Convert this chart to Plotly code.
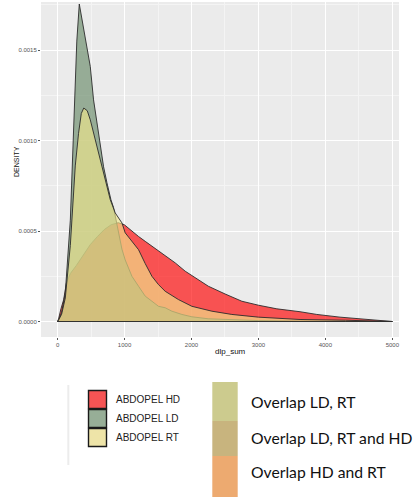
import plotly.graph_objects as go

# Kernel density estimates of dlp_sum for the three ABDOPEL protocols (density values in 1e-3 units)
hd_x = [0, 15, 50, 90, 130, 190, 279, 384, 488, 593, 697, 801, 906, 996, 1110, 1209, 1309,
        1409, 1507, 1607, 1757, 1906, 2055, 2252, 2503, 2752, 3000, 3275, 3622, 3872, 4219,
        4518, 4767, 5000]
hd_y = [0, 0.015, 0.07, 0.12, 0.21, 0.265, 0.309, 0.37, 0.425, 0.469, 0.508, 0.535, 0.546,
        0.535, 0.498, 0.47, 0.443, 0.416, 0.39, 0.365, 0.324, 0.278, 0.241, 0.195, 0.152,
        0.112, 0.09, 0.07, 0.054, 0.039, 0.024, 0.015, 0.008, 0.004]

ld_x = [0, 15, 60, 115, 190, 224, 257, 287, 324, 380, 439, 488, 537, 612, 687, 737, 797, 836,
        891, 961, 1010, 1110, 1209, 1309, 1409, 1507, 1607, 1707, 1857, 2006, 2249, 2503, 3000,
        3500, 4000, 4500, 5000]
ld_y = [0, 0.01, 0.05, 0.16, 0.56, 0.89, 1.22, 1.55, 1.755, 1.63, 1.50, 1.41, 1.225, 1.043,
        0.855, 0.767, 0.673, 0.63, 0.53, 0.40, 0.34, 0.25, 0.195, 0.14, 0.112, 0.084, 0.076,
        0.057, 0.039, 0.026, 0.015, 0.011, 0.005, 0.003, 0.002, 0.001, 0.0005]

rt_x = [0, 15, 60, 115, 190, 227, 264, 313, 354, 391, 443, 488, 563, 637, 712, 787, 861, 961,
        1010, 1110, 1209, 1309, 1409, 1507, 1607, 1806, 2006, 2304, 2603, 3000, 3622, 4300, 5000]
rt_y = [0, 0.008, 0.04, 0.13, 0.42, 0.62, 0.86, 1.04, 1.15, 1.18, 1.165, 1.115, 1.004, 0.894,
        0.784, 0.673, 0.60, 0.545, 0.49, 0.44, 0.397, 0.32, 0.25, 0.204, 0.167, 0.121, 0.084,
        0.057, 0.039, 0.024, 0.011, 0.007, 0.002]

series_names = ["ABDOPEL HD", "ABDOPEL LD", "ABDOPEL RT"]
series_fill = ["rgba(255,0,0,0.65)", "rgba(105,139,105,0.65)", "rgba(240,230,140,0.65)"]
legend_swatch = ["#F65454", "#97AE97", "#EEE4A8"]

overlap_labels = ["Overlap LD, RT", "Overlap LD, RT and HD", "Overlap HD and RT"]
overlap_colors = ["#CCCB8E", "#C8B47E", "#EDAA70"]

x_ticks = [0, 1000, 2000, 3000, 4000, 5000]
y_ticks = [0, 0.0005, 0.0010, 0.0015]

W, H = 419, 498
ML, MR, MT, MB = 41, 20, 2, 161


def px(x):
    return (x - ML) / (W - ML - MR)


def py(y):
    return (H - MB - y) / (H - MT - MB)


fig = go.Figure()
for name, xs, ys, fc in zip(series_names, [hd_x, ld_x, rt_x], [hd_y, ld_y, rt_y], series_fill):
    dens = [v / 1000 for v in ys]
    fig.add_trace(go.Scatter(
        x=xs + xs[::-1], y=dens + [0] * len(xs),
        mode="lines", fill="toself", fillcolor=fc,
        line=dict(color="#2b2b2b", width=0.9),
        name=name, showlegend=False, hoverinfo="skip",
    ))

shapes = []
annotations = []

# protocol key
shapes.append(dict(type="line", xref="paper", yref="paper",
                   x0=px(68.3), x1=px(68.3), y0=py(385), y1=py(465),
                   line=dict(color="#ECECEC", width=2)))
box_top = 390
for i, (name, col) in enumerate(zip(series_names, legend_swatch)):
    y0 = box_top + i * 19
    shapes.append(dict(type="rect", xref="paper", yref="paper",
                       x0=px(88.5), x1=px(106.5), y0=py(y0 + 18.5), y1=py(y0 + 0.5),
                       fillcolor=col, line=dict(color="#1a1a1a", width=1.4)))
    annotations.append(dict(text=name, xref="paper", yref="paper",
                            x=px(113.5), y=py(y0 + 9.5), xanchor="left", yanchor="middle",
                            showarrow=False,
                            font=dict(family="Liberation Sans, Arial", size=10, color="#222")))

# overlap key
edges = [382, 421, 456, 497]
for i, (lab, col) in enumerate(zip(overlap_labels, overlap_colors)):
    shapes.append(dict(type="rect", xref="paper", yref="paper",
                       x0=px(212.3), x1=px(237.7), y0=py(edges[i + 1]), y1=py(edges[i]),
                       fillcolor=col, line=dict(width=0)))
centers = [401.7, 438.3, 471.7]
for lab, cy in zip(overlap_labels, centers):
    annotations.append(dict(text=lab, xref="paper", yref="paper",
                            x=px(249), y=py(cy), xanchor="left", yanchor="middle",
                            showarrow=False,
                            font=dict(family="Lato, Noto Sans", size=15.7, color="#111")))

# axis titles
annotations.append(dict(text="DENSITY", xref="paper", yref="paper", x=px(16), y=py(162),
                        textangle=-90, showarrow=False, xanchor="center", yanchor="middle",
                        font=dict(family="Liberation Sans, Arial", size=7, color="#111")))
annotations.append(dict(text="dlp_sum", xref="paper", yref="paper", x=px(230), y=py(351),
                        showarrow=False, xanchor="center", yanchor="middle",
                        font=dict(family="Liberation Sans, Arial", size=8, color="#111")))

fig.update_layout(
    width=W, height=H,
    margin=dict(l=ML, r=MR, t=MT, b=MB, pad=0),
    paper_bgcolor="white", plot_bgcolor="#EBEBEB",
    showlegend=False,
    shapes=shapes, annotations=annotations,
    xaxis=dict(range=[-248, 5100], tickvals=x_ticks, ticktext=[str(v) for v in x_ticks],
               showgrid=True, gridcolor="white", gridwidth=1, zeroline=False,
               ticks="outside", ticklen=2, tickcolor="#555", tickwidth=0.7,
               tickfont=dict(family="Liberation Sans, Arial", size=6, color="#555"),
               minor=dict(dtick=500, tick0=500, showgrid=True, gridcolor="#F4F4F4", gridwidth=0.6,
                          ticks=""),
               showline=False),
    yaxis=dict(range=[-0.0000857, 0.001766], tickvals=y_ticks,
               ticktext=["%.4f" % v for v in y_ticks],
               showgrid=True, gridcolor="white", gridwidth=1, zeroline=False,
               ticks="outside", ticklen=2, tickcolor="#555", tickwidth=0.7,
               tickfont=dict(family="Liberation Sans, Arial", size=6, color="#555"),
               minor=dict(dtick=0.00025, tick0=0.00025, showgrid=True, gridcolor="#F4F4F4",
                          gridwidth=0.6, ticks=""),
               showline=False),
)

fig.write_html("out.html")
